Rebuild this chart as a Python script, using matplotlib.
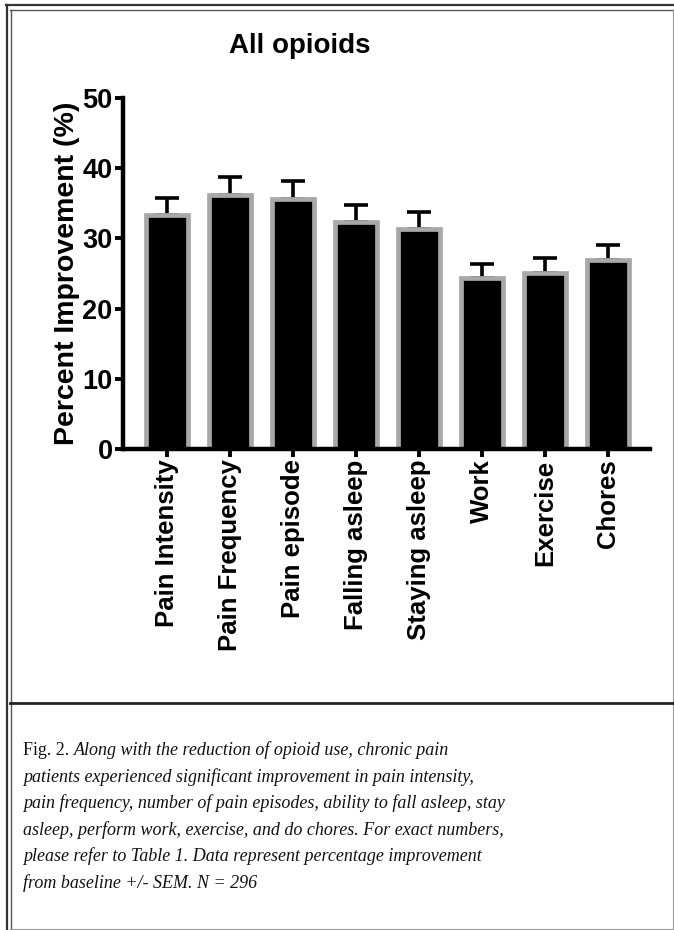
import numpy as np
import matplotlib
matplotlib.use('Agg')
import matplotlib.pyplot as plt
from matplotlib.lines import Line2D

plt.rcParams['font.family'] = ['Liberation Sans', 'DejaVu Sans']

categories = ['Pain Intensity', 'Pain Frequency', 'Pain episode', 'Falling asleep',
              'Staying asleep', 'Work', 'Exercise', 'Chores']
improvement = [33.4, 36.2, 35.6, 32.3, 31.3, 24.3, 25.0, 26.9]
sem = [2.4, 2.6, 2.6, 2.5, 2.5, 2.0, 2.2, 2.1]
yticks = [0, 10, 20, 30, 40, 50]

caption_lines = [
    'Along with the reduction of opioid use, chronic pain',
    'patients experienced significant improvement in pain intensity,',
    'pain frequency, number of pain episodes, ability to fall asleep, stay',
    'asleep, perform work, exercise, and do chores. For exact numbers,',
    'please refer to Table 1. Data represent percentage improvement',
    'from baseline +/- SEM. N = 296',
]

W, H = 674, 930
fig = plt.figure(figsize=(W / 100, H / 100), dpi=100, facecolor='white')
ax = fig.add_axes([123 / W, 1 - 449 / H, (650 - 123) / W, (449 - 98) / H])

x = np.arange(len(categories))
ax.bar(x, improvement, width=0.67, color='black', edgecolor='#a8a8a8',
       linewidth=3.4, zorder=2)
ax.errorbar(x, improvement, yerr=[np.zeros(len(sem)), sem], fmt='none',
            ecolor='black', elinewidth=2.6, capsize=8.5, capthick=2.6, zorder=1)

ax.set_xlim(-0.7, 7.67)
ax.set_ylim(0, 50)
ax.set_yticks(yticks)
ax.set_xticks(x)
ax.set_xticklabels(categories, rotation=90, fontsize=18.5, fontweight='bold')
for lab in ax.get_yticklabels():
    lab.set_fontsize(19.5)
    lab.set_fontweight('bold')
ax.tick_params(axis='both', width=2.8, length=6, pad=1.5)
ax.set_ylabel('Percent Improvement (%)', fontsize=20.5, fontweight='bold', labelpad=2)
for s in ['top', 'right']:
    ax.spines[s].set_visible(False)
for s in ['left', 'bottom']:
    ax.spines[s].set_linewidth(3.2)

fig.text(300 / W, 1 - 46 / H, 'All opioids', ha='center', va='center',
         fontsize=20, fontweight='bold')

# frame around the figure
def hline(y, x0, x1, lw, c):
    fig.add_artist(Line2D([x0 / W, x1 / W], [1 - y / H, 1 - y / H], lw=lw, color=c))

def vline(xp, y0, y1, lw, c):
    fig.add_artist(Line2D([xp / W, xp / W], [1 - y0 / H, 1 - y1 / H], lw=lw, color=c))

hline(5.5, 6, 674, 1.6, '#333333')
hline(10, 10, 674, 1.0, '#555555')
vline(6.5, 5, 930, 1.6, '#333333')
vline(10.5, 10, 930, 1.0, '#555555')
vline(672.5, 10, 930, 0.8, '#999999')
hline(703, 10, 674, 2.0, '#222222')
hline(929, 10, 674, 0.8, '#999999')

# caption
serif = ['Liberation Serif', 'DejaVu Serif']
y0 = 755
t = fig.text(23 / W, 1 - y0 / H, 'Fig. 2. ', family=serif, fontsize=13,
             color='#111111', va='baseline')
r = fig.canvas.get_renderer()
bb = t.get_window_extent(renderer=r)
fig.text(bb.x1 / W, 1 - y0 / H, caption_lines[0], family=serif, style='italic',
         fontsize=13, color='#111111', va='baseline')
for i, line in enumerate(caption_lines[1:], start=1):
    fig.text(23 / W, 1 - (y0 + i * 26.6) / H, line, family=serif, style='italic',
             fontsize=13, color='#111111', va='baseline')

fig.savefig('out.png', dpi=100, facecolor='white')
